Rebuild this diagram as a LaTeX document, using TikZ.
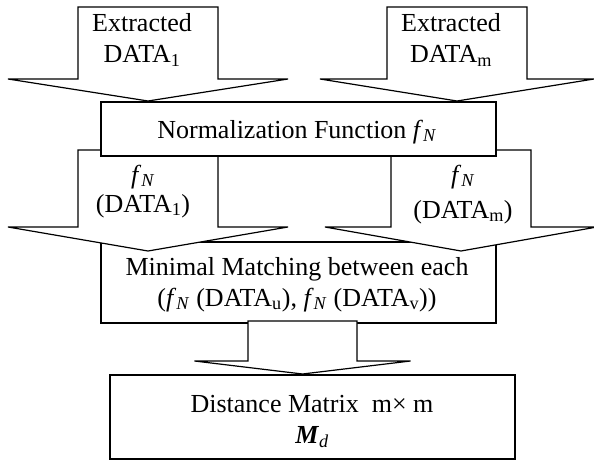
\documentclass[tikz,border=0pt]{standalone}
\usepackage{fontspec}
\setmainfont{Liberation Serif}
\tikzset{
  shapeline/.style={draw=black, fill=white, line width=1.2pt, line join=miter},
  label/.style={font=\fontsize{26}{31}\selectfont, align=center, anchor=base, inner sep=0pt},
}
% block arrow: shaft left, shaft right, shaft top, shaft bottom, head half-width, tip y
\newcommand{\blockarrow}[6]{%
  \draw[shapeline] (#1,#3) -- (#2,#3) -- (#2,#4) -- ({(#1+#2)/2+#5},#4)
    -- ({(#1+#2)/2},#6) -- ({(#1+#2)/2-#5},#4) -- (#1,#4) -- cycle;}
\newcommand{\fN}{\textit{f}\textsubscript{\textit{N}}}
\begin{document}
\begin{tikzpicture}[x=1pt,y=-1pt]
\useasboundingbox (0,0) rectangle (594,460);

% matching box sits beneath the incoming arrow heads
\draw[shapeline] (101,242) rectangle (496,323);

% normalized data arrows
\blockarrow{78}{218}{150}{227}{140}{251}
\blockarrow{391}{531}{150}{227}{136}{251}

% normalization box
\draw[shapeline] (101,102) rectangle (496,156);

% extracted data arrows
\blockarrow{78}{218}{7}{79}{140}{101}
\blockarrow{387}{527}{7}{79}{137}{101}

% arrow into the distance matrix
\blockarrow{248}{357}{321}{361}{108}{374}

% distance matrix box
\draw[shapeline] (110,375) rectangle (515,459);

% texts (anchored at the baseline of their last line)
\node[label] (el) at (142,63) {Extracted\\DATA\textsubscript{1}};
\node[label] (er) at (451,63) {Extracted\\DATA\textsubscript{m}};
\node[label] (norm) at (297,138) {Normalization Function \fN};
\node[label] (nl) at (143,212) {\fN\\[-2pt](DATA\textsubscript{1})};
\node[label] (nr) at (463,218) {\fN\\[4pt](DATA\textsubscript{m})};
\node[label] (match) at (297,306)
  {Minimal Matching between each\\(\fN{} (DATA\textsubscript{u}), \fN{} (DATA\textsubscript{v}))};
\node[label] (dist) at (312,443)
  {Distance Matrix\ \ m\texttimes{} m\\\textbf{\textit{M}}\textsubscript{\textit{d}}};
\end{tikzpicture}
\end{document}
